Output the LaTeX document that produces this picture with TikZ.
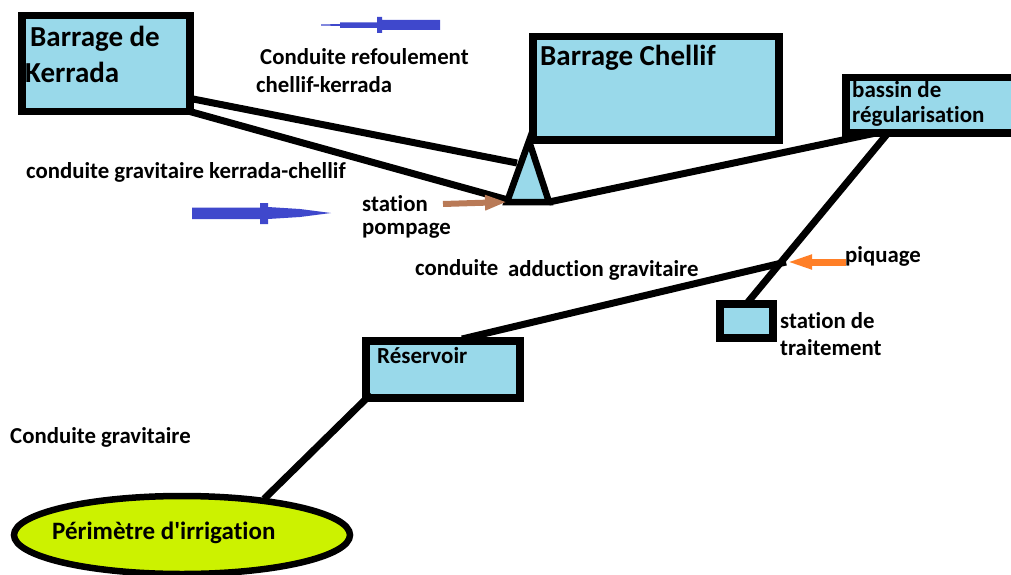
\documentclass[tikz,border=0pt]{standalone}
\usepackage{fontspec}
\setmainfont{Carlito}[Ligatures={NoCommon}]
\usetikzlibrary{arrows.meta,shapes.geometric}
\definecolor{lblue}{RGB}{153,217,234}
\definecolor{lgreen}{RGB}{204,242,0}
\definecolor{indig}{RGB}{63,72,204}
\definecolor{brownc}{RGB}{185,122,87}
\definecolor{orangec}{RGB}{255,127,39}
\tikzset{
  boxs/.style={draw=black,fill=lblue,line width=7.5pt,inner sep=0pt,anchor=north west},
  pipe/.style={draw=black,line width=7pt},
  lbl/.style={font=\bfseries\fontsize{22.8}{26}\selectfont,inner sep=0pt,anchor=west,text=black},
  mid/.style={font=\bfseries\fontsize{23}{26}\selectfont,inner sep=0pt,anchor=west,text=black},
  big/.style={font=\bfseries\fontsize{29}{34}\selectfont,inner sep=0pt,anchor=west,text=black},
}
\begin{document}
\begin{tikzpicture}[x=1pt,y=-1pt]
\useasboundingbox (0,0) rectangle (1011,575);
% boxes (anchor = outer edge of the border)
\node[boxs,minimum width=168pt,minimum height=96pt] (kerrada) at (18,12) {};
\node[boxs,minimum width=246pt,minimum height=103pt] (chellif) at (529,33) {};
\node[boxs,minimum width=185pt,minimum height=55pt] (bassin) at (842,74) {};
\node[boxs,minimum width=53pt,minimum height=34pt] (traitement) at (716,300) {};
\node[boxs,minimum width=154pt,minimum height=57pt] (reservoir) at (362,337) {};
\node[ellipse,draw=black,fill=lgreen,line width=6.5pt,minimum width=336pt,minimum height=78pt] (perimetre) at (182,535) {};
% triangle station pompage
\coordinate (tA) at (529,141);
\coordinate (tL) at (507,202);
\coordinate (tR) at (549,202);
\draw[fill=lblue,line width=6.5pt,line join=miter] (tA) -- (tL) -- (tR) -- cycle;
% box texts
\node[big] (tk1) at (30,39) {Barrage de};
\node[big] (tk2) at (25,72) {Kerrada};
\node[big] (tch) at (540,58) {Barrage Chellif};
\node[mid] (tb1) at (852,90) {bassin de};
\node[mid] (tb2) at (852,116) {régularisation};
\node[mid] (tres) at (377,356) {Réservoir};
\node[font=\bfseries\fontsize{25}{28}\selectfont,inner sep=0pt,anchor=west] (tper) at (52,533) {Périmètre d\textquotesingle irrigation};
% pipes
\coordinate (k1) at (188,98);
\coordinate (k2) at (188,111);
\coordinate (e1) at (517,163);
\coordinate (e2) at (508,200);
\draw[pipe] (k1) -- (e1);
\draw[pipe] (k2) -- (e2);
\coordinate (b1) at (876,133);
\coordinate (b2) at (888,133);
\draw[pipe] (tR) -- (b1);
\coordinate (tr1) at (748,302);
\draw[pipe] (b2) -- (tr1);
\coordinate (piq) at (786,262);
\coordinate (r1) at (462,339);
\draw[pipe] (r1) -- (piq);
\coordinate (r2) at (371,394);
\coordinate (p1) at (264,499);
\draw[pipe] (r2) -- (p1);
% labels
\node[lbl] (l1) at (260,57) {Conduite refoulement};
\node[lbl] (l2) at (256,85) {chellif-kerrada};
\node[lbl] (l3) at (26,172) {conduite gravitaire kerrada-chellif};
\node[lbl] (l4) at (362,204) {station};
\node[lbl] (l5) at (362,231) {pompage};
\node[lbl] (l6) at (415,268) {conduite};
\node[lbl] (l7) at (508,270) {adduction gravitaire};
\node[lbl] (l8) at (845,256) {piquage};
\node[lbl] (l9) at (780,321) {station de};
\node[lbl] (l10) at (780,348) {traitement};
\node[lbl] (l11) at (10,437) {Conduite gravitaire};
% blue arrows
\fill[indig] (440,20) -- (382,20) -- (382,17) -- (377,17) -- (377,22.5) -- (340,22.5) -- (340,24) -- (321,24.5) -- (321,25.5) -- (340,26) -- (340,28) -- (377,28) -- (377,33) -- (382,33) -- (382,30) -- (440,30) -- cycle;
\fill[indig] (192,207.5) -- (260,207.5) -- (260,203) -- (268,203) -- (268,207) -- (300,209) -- (331,213) -- (300,217) -- (268,219) -- (268,224) -- (260,224) -- (260,219) -- (192,219) -- cycle;
% brown and orange arrows
\coordinate (bs) at (443,204);
\draw[brownc,line width=6pt,-{Triangle[length=22pt,width=14pt]}] (bs) -- (tL);
\coordinate (os) at (846,262);
\draw[orangec,line width=7pt,-{Triangle[length=26pt,width=13pt]}] (os) -- (piq);
\end{tikzpicture}
\end{document}
